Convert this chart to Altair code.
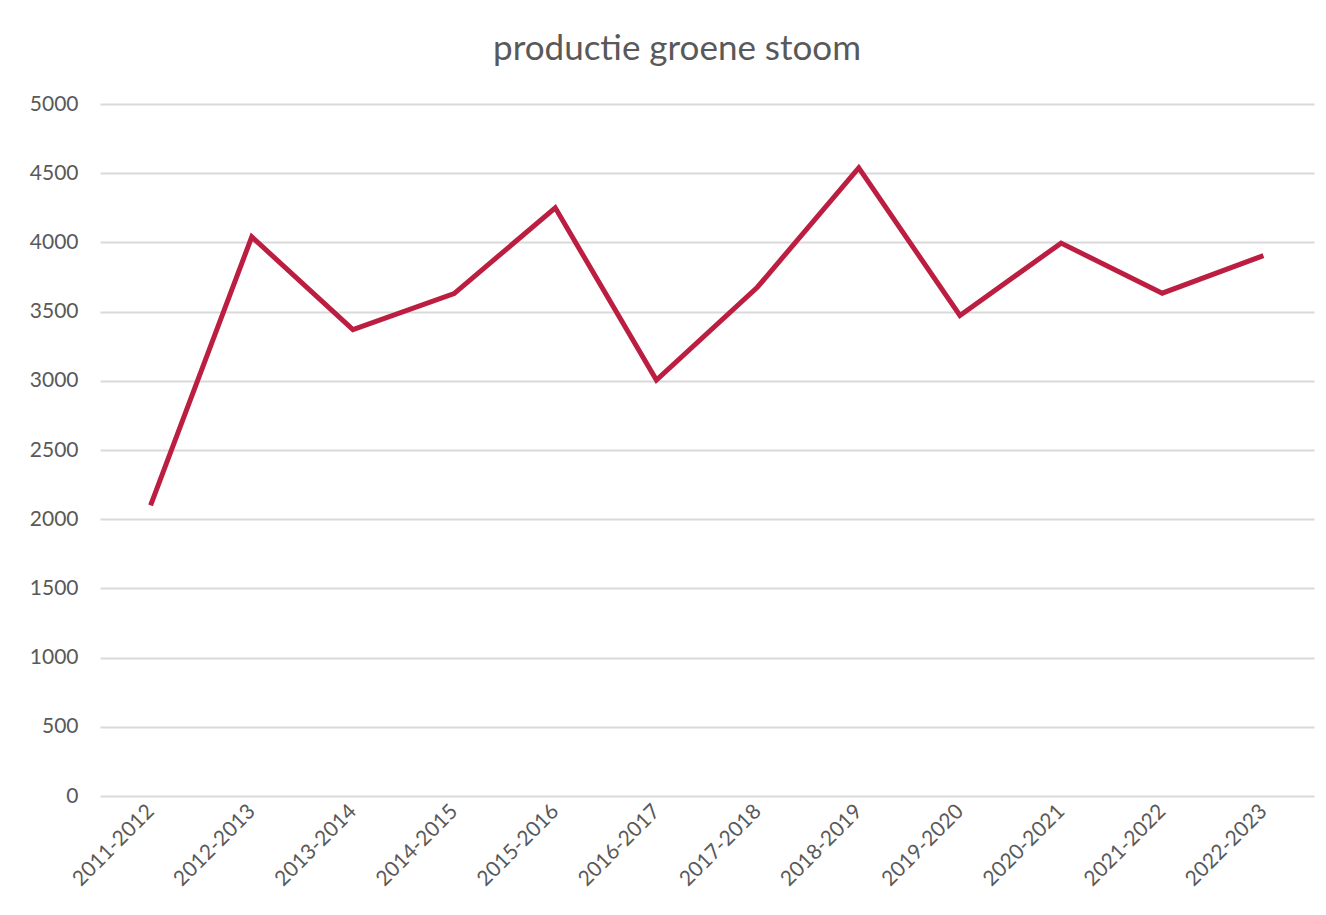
import altair as alt
import pandas as pd

seasons = ["2011-2012", "2012-2013", "2013-2014", "2014-2015", "2015-2016", "2016-2017",
           "2017-2018", "2018-2019", "2019-2020", "2020-2021", "2021-2022", "2022-2023"]
values = [2100, 4040, 3370, 3630, 4250, 3005, 3678, 4538, 3472, 3995, 3633, 3905]

df = pd.DataFrame({"seizoen": seasons, "stoom": values})

line = alt.Chart(df).mark_line(color="#BC1E41", strokeWidth=5, strokeJoin="miter").encode(
    x=alt.X("seizoen:N", sort=seasons,
            scale=alt.Scale(type="point", padding=0.5),
            axis=alt.Axis(title=None, labelAngle=-45, labelAlign="right", labelBaseline="middle",
                          labelPadding=12, ticks=False, domain=False, grid=False,
                          labelFontSize=21, labelColor="#595959", labelFont="Lato")),
    y=alt.Y("stoom:Q", scale=alt.Scale(domain=[0, 5000], nice=False),
            axis=alt.Axis(title=None, values=list(range(0, 5001, 500)), format="d",
                          ticks=False, domain=False,
                          labelPadding=22, labelFontSize=21, labelColor="#595959", labelFont="Lato",
                          gridColor="#D9D9D9", gridWidth=2)),
)

chart = line.properties(
    width=1214, height=692,
    title=alt.Title("productie groene stoom", fontSize=35, font="Lato", fontWeight="normal",
                    color="#595959", offset=26, anchor="middle", dx=-30),
    autosize=alt.AutoSizeParams(type="none"),
    padding={"left": 92, "top": 96, "right": 4, "bottom": 110},
    background="white",
).configure_view(stroke=None)

chart.save("out.html", embed_options={"renderer": "svg", "actions": False})
